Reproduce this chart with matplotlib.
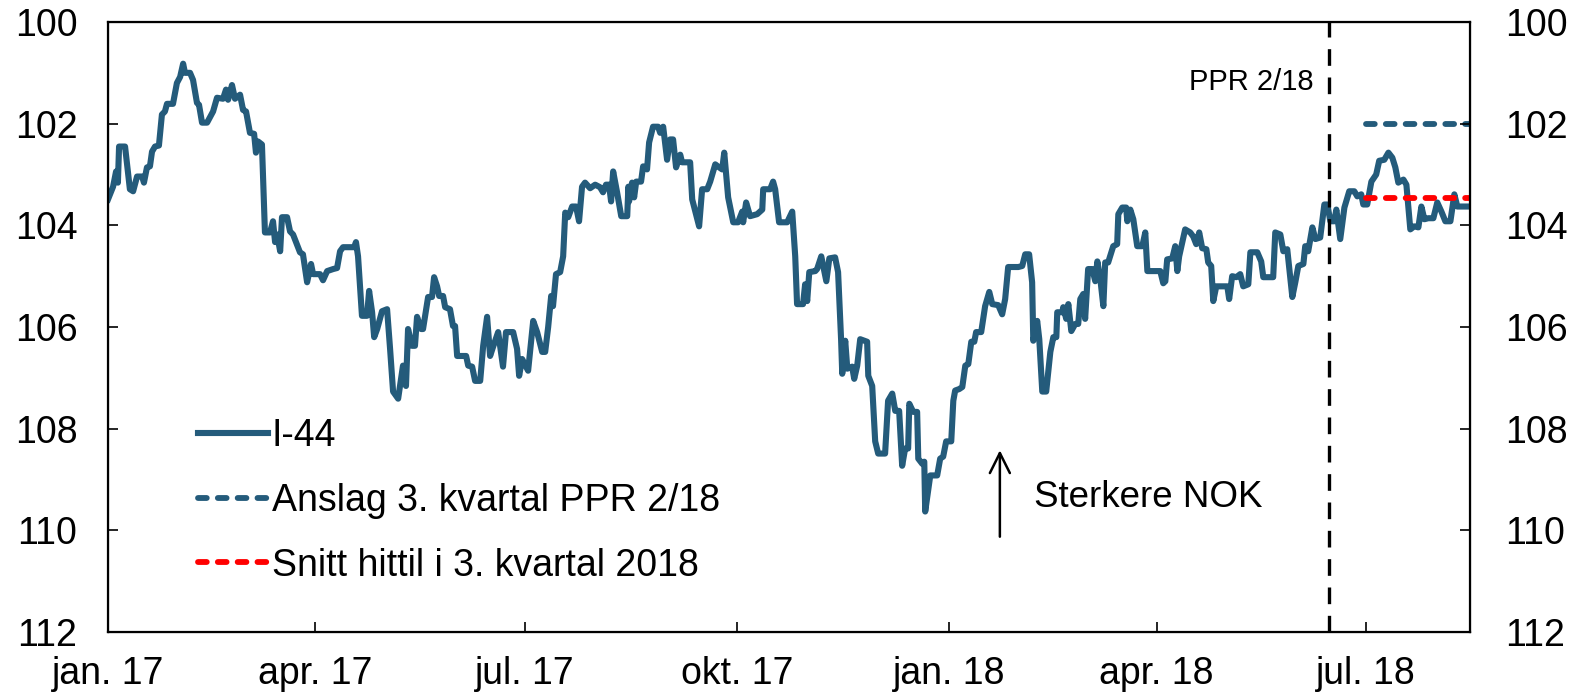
import matplotlib
matplotlib.use("Agg")
import matplotlib.pyplot as plt
import pandas as pd

plt.rcParams['font.family'] = ['Liberation Sans', 'DejaVu Sans']

# I-44, days counted from 1 Jan 2017 (inverted axis)
day_offset = [
    0, 2.2, 3.5, 4.3, 4.8, 7.4, 9.5, 10.9, 12.6, 14.8, 15.6, 16.9, 18.2, 19.1, 20.4, 22.1,
    23.4, 24.7, 25.6, 28.2, 29.9, 31.3, 32.6, 33.4, 35.6, 36.9, 38.6, 39.5, 40.8, 43.0, 45.6,
    47.3, 49.9, 51.2, 52.1, 53.8, 55.1, 57.3, 58.6, 59.9, 61.6, 63.4, 64.2, 65.1, 66.8, 68.1,
    70.3, 71.6, 72.5, 73.4, 74.7, 75.5, 77.7, 79.0, 80.3, 83.3, 84.6, 86.4, 88.1, 89.0, 92.0,
    93.3, 95.1, 97.7, 99.4, 100.7, 102.0, 106.8, 107.6, 108.5, 110.2, 112.4, 113.3, 114.6,
    115.5, 116.8, 118.9,
    121.1, 122.4, 123.7, 125.9, 128.0, 129.3, 130.2, 131.9, 133.2, 134.1, 135.9, 136.7, 138.9,
    140.6, 141.5, 142.8, 143.7, 145.4, 146.3, 148.4, 149.7, 150.6, 151.5, 155.4, 156.3, 158.0,
    159.3, 161.5, 162.8, 164.5, 165.8, 167.1, 169.3, 171.4, 172.7, 175.8, 177.5, 178.4, 179.7,
    182.3, 184.5, 186.2, 188.4, 189.7, 191.0, 192.3, 193.1, 194.4, 196.2, 197.5, 198.4, 199.7,
    201.4, 203.1, 204.4, 205.7, 207.0, 209.2, 211.4, 213.5, 214.8, 216.1, 217.4, 218.3, 219.2,
    220.9, 222.7, 225.3, 225.8, 226.1, 227.4, 228.3, 229.2, 231.3, 232.2, 233.9, 234.8, 236.5,
    238.7, 239.6, 240.9, 242.6, 243.9, 245.2, 246.5, 248.3, 249.1, 252.6, 253.5, 256.5, 257.8,
    260.0, 261.3, 263.5, 265.2,
    266.5, 267.4, 269.1, 271.3, 273.4, 275.2, 275.6, 276.9, 278.6, 281.7, 283.9, 284.3, 287.3,
    288.6, 289.5, 291.2, 294.7, 296.9, 298.2, 299.0, 301.6, 302.5, 303.4, 304.3, 306.9, 307.7,
    309.5, 311.7, 313.0, 315.5, 316.8, 318.1, 318.6, 319.9, 320.8, 322.9, 323.8, 325.1, 326.4,
    329.4, 329.9, 331.6, 332.9, 334.2, 337.2, 338.5, 340.3, 341.6, 343.3, 344.6, 345.9, 347.2,
    347.7, 349.4, 351.1, 351.6, 353.3, 354.2, 354.6, 356.8, 359.8, 361.1, 362.4, 363.7, 365.9,
    366.8, 367.6, 369.4, 370.7, 372.0, 373.3, 374.6, 375.9, 376.7, 378.9, 380.6, 382.4, 383.7,
    386.3,
    388.0, 389.3, 390.6, 395.0, 396.7, 398.0, 399.7, 401.0, 401.5, 403.2, 404.1, 405.4, 407.1,
    408.9, 410.2, 411.5, 411.9, 414.1, 414.5, 415.8, 416.7, 418.0, 419.7, 421.0, 421.9, 423.2,
    424.0, 425.3, 427.1, 428.4, 429.3, 430.6, 431.9, 432.7, 434.0, 436.2, 437.9, 438.4, 440.1,
    441.8, 442.3, 443.6, 444.9, 446.6, 448.8, 450.1, 451.0, 456.6, 457.9, 458.8, 459.6, 461.8,
    463.1, 464.0, 464.8, 467.4, 469.6, 470.9, 472.2, 473.5, 474.8, 476.6, 477.4, 478.7, 479.6,
    480.9, 485.7, 486.5, 487.8, 489.6, 491.3, 492.6, 494.8, 495.7, 498.7, 500.4, 501.3, 505.6,
    506.5, 508.7, 510.0, 511.7, 513.0, 513.9, 515.2, 516.5, 518.7,
    519.5, 520.8, 522.6, 523.9, 526.0, 527.8, 529.1, 530.4, 532.1, 533.0, 534.7, 536.5, 538.6,
    540.8, 542.1, 543.8, 544.7, 546.4, 548.2, 550.3, 551.6, 553.8, 555.6, 557.3, 558.6, 559.9,
    562.1, 563.4, 565.1, 566.8, 568.6, 569.9, 571.2, 572.9, 575.1, 576.8, 578.6, 580.3, 582.5,
    584.2, 585.5, 589.8,
]
i44 = [
    103.49, 103.24, 102.94, 103.16, 102.45, 102.45, 103.29, 103.33, 103.04, 103.04, 103.16, 102.86,
    102.84, 102.55, 102.45, 102.43, 101.82, 101.76, 101.61, 101.61, 101.20, 101.08, 100.82, 101.00,
    101.00, 101.14, 101.59, 101.63, 101.98, 101.98, 101.76, 101.49, 101.51, 101.33, 101.53, 101.24,
    101.51, 101.43, 101.73, 101.76, 102.18, 102.20, 102.57, 102.35, 102.41, 104.14, 104.14, 103.92,
    104.33, 104.18, 104.51, 103.84, 103.84, 104.12, 104.18, 104.53, 104.57, 105.12, 104.76, 104.96,
    104.96, 105.08, 104.90, 104.86, 104.84, 104.51, 104.43, 104.43, 104.33, 104.61, 105.78, 105.78,
    105.29, 105.71, 106.20, 106.04, 105.69,
    105.65, 106.43, 107.27, 107.41, 106.76, 107.16, 106.04, 106.37, 106.37, 105.80, 106.04, 106.04,
    105.41, 105.41, 105.02, 105.20, 105.39, 105.39, 105.61, 105.65, 105.98, 105.98, 106.57, 106.57,
    106.76, 106.78, 107.06, 107.06, 106.37, 105.80, 106.57, 106.39, 106.10, 106.78, 106.10, 106.10,
    106.43, 106.96, 106.63, 106.86, 105.88, 106.10, 106.49, 106.49, 106.00, 105.39, 105.59, 104.96,
    104.92, 104.61, 103.75, 103.84, 103.63, 103.63, 103.92, 103.24, 103.16, 103.27, 103.20, 103.25,
    103.35, 103.20, 103.20, 103.53, 102.94, 103.35, 103.82, 103.82, 103.24, 103.53, 103.16, 103.45,
    103.14, 103.14, 102.84, 102.90, 102.37, 102.06, 102.06, 102.18, 102.06, 102.71, 102.31, 102.31,
    102.86, 102.61, 102.76, 102.76, 103.49, 104.02, 103.29, 103.29, 103.14, 102.80, 102.86,
    102.90, 102.57, 103.45, 103.94, 103.94, 103.73, 103.94, 103.55, 103.82, 103.78, 103.69, 103.29,
    103.29, 103.14, 103.29, 103.94, 103.94, 103.73, 104.61, 105.55, 105.55, 105.16, 105.49, 104.92,
    104.90, 104.86, 104.61, 105.10, 104.65, 104.63, 104.92, 106.24, 106.92, 106.27, 106.82, 106.78,
    107.02, 106.76, 106.24, 106.29, 106.96, 107.16, 108.25, 108.49, 108.49, 107.45, 107.31, 107.65,
    107.65, 108.73, 108.39, 108.39, 107.51, 107.67, 107.67, 108.59, 108.69, 108.65, 109.63, 108.92,
    108.92, 108.59, 108.55, 108.25, 108.25, 107.45, 107.25, 107.22, 107.18, 106.76, 106.73, 106.29,
    106.29, 106.10, 106.10, 105.59, 105.31, 105.55, 105.57,
    105.75, 105.45, 104.82, 104.82, 104.80, 104.57, 104.57, 105.12, 106.27, 105.88, 106.24, 107.27,
    107.27, 106.49, 106.20, 106.20, 105.71, 105.71, 105.61, 105.84, 105.55, 106.08, 105.94, 105.94,
    105.45, 105.35, 105.84, 104.86, 104.86, 105.10, 104.71, 105.06, 105.59, 104.73, 104.73, 104.41,
    104.37, 103.78, 103.65, 103.65, 103.92, 103.69, 103.88, 104.41, 104.41, 104.14, 104.90, 104.90,
    105.14, 105.10, 104.67, 104.65, 104.41, 104.90, 104.61, 104.08, 104.14, 104.22, 104.37, 104.14,
    104.45, 104.47, 104.73, 104.80, 105.49, 105.20, 105.20, 105.45, 105.00, 105.02, 104.96, 105.20,
    105.16, 104.53, 104.53, 104.71, 105.02, 105.02, 104.14, 104.18, 104.51, 104.47, 105.02, 105.41,
    105.12, 104.80, 104.76,
    104.41, 104.51, 104.04, 104.27, 104.24, 103.59, 103.59, 103.92, 103.92, 103.69, 104.27, 103.65,
    103.33, 103.33, 103.43, 103.39, 103.59, 103.59, 103.14, 103.00, 102.73, 102.71, 102.57, 102.67,
    102.86, 103.16, 103.10, 103.20, 104.08, 104.02, 104.04, 103.63, 103.88, 103.86, 103.86, 103.55,
    103.73, 103.92, 103.92, 103.39, 103.63, 103.63,
]

start = pd.Timestamp("2017-01-01")
dates = start + pd.to_timedelta(day_offset, unit="D")

ppr_date = pd.Timestamp("2018-06-15")
q3_start = pd.Timestamp("2018-07-01")
x_end = pd.Timestamp("2018-08-15")
ppr_forecast = 102.0
q3_average = 103.46

tick_dates = pd.to_datetime(["2017-01-01", "2017-04-01", "2017-07-01", "2017-10-01",
                             "2018-01-01", "2018-04-01", "2018-07-01"])
tick_labels = ["jan. 17", "apr. 17", "jul. 17", "okt. 17", "jan. 18", "apr. 18", "jul. 18"]
yticks = [100, 102, 104, 106, 108, 110, 112]

blue = "#245B7B"
red = "#FF0000"

fig = plt.figure(figsize=(15.76, 6.98), dpi=100)
ax = fig.add_axes([108 / 1576, 66 / 698, 1362 / 1576, 610 / 698])

ax.plot(dates, i44, color=blue, lw=4.4, solid_joinstyle="round", label="I-44")
ax.plot([q3_start, x_end], [ppr_forecast] * 2, color=blue, lw=4.2, dashes=(1.5, 1.9),
        dash_capstyle="round", label="Anslag 3. kvartal PPR 2/18")
ax.plot([q3_start, x_end], [q3_average] * 2, color=red, lw=4.2, dashes=(1.5, 1.9),
        dash_capstyle="round", label="Snitt hittil i 3. kvartal 2018")
ax.axvline(ppr_date, color="black", lw=2.4, dashes=(5, 3.5))

ax.text(ppr_date - pd.Timedelta(days=7), 101.18, "PPR 2/18", ha="right", va="center", fontsize=21)
ax.annotate("", xy=(pd.Timestamp("2018-01-23"), 108.37), xytext=(pd.Timestamp("2018-01-23"), 110.18),
            arrowprops=dict(arrowstyle="->", lw=1.8, color="black", mutation_scale=36))
ax.text(pd.Timestamp("2018-02-07"), 109.35, "Sterkere NOK", ha="left", va="center", fontsize=26.5)

ax.set_xlim(start, x_end)
ax.set_ylim(112, 100)
ax.set_yticks(yticks)
ax.set_xticks(tick_dates)
ax.set_xticklabels(tick_labels)
ax.tick_params(axis="both", direction="in", length=7, width=1.2, labelsize=27)
ax.tick_params(axis="y", pad=22)
ax.tick_params(axis="x", pad=17)
for s in ax.spines.values():
    s.set_linewidth(1.6)

ax2 = ax.twinx()
ax2.set_ylim(112, 100)
ax2.set_yticks(yticks)
ax2.tick_params(axis="y", direction="in", length=7, width=1.2, labelsize=27, pad=25)

leg = ax.legend(loc="upper left", bbox_to_anchor=(0.066, 0.35), frameon=False, fontsize=27,
                handlelength=1.87, handletextpad=0.1, labelspacing=0.76, borderpad=0, borderaxespad=0)

fig.savefig("out.png", dpi=100)
